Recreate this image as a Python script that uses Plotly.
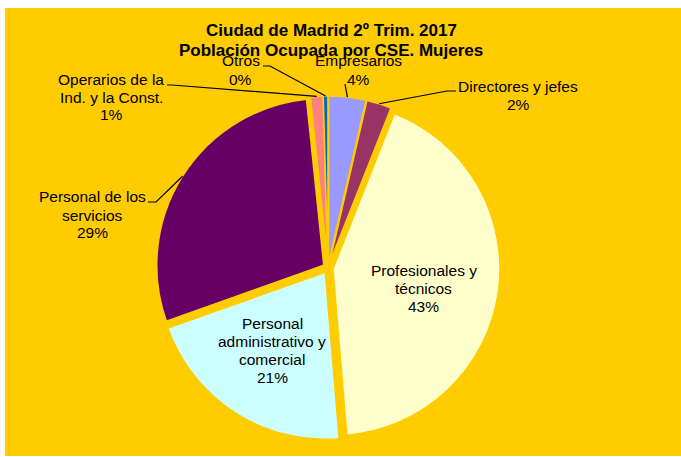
import numpy as np
import plotly.graph_objects as go

# datos (Ciudad de Madrid, 2º trim. 2017, mujeres ocupadas por CSE)
categorias = ["Empresarios", "Directores y jefes", "Profesionales y técnicos",
              "Personal administrativo y comercial", "Personal de los servicios",
              "Operarios de la Ind. y la Const.", "Otros"]
valores = [3.6, 2.4, 42.7, 20.9, 28.8, 1.2, 0.45]
lineas_etiqueta = [["Empresarios"], ["Directores y jefes"], ["Profesionales y", "técnicos"],
                   ["Personal", "administrativo y", "comercial"], ["Personal de los", "servicios"],
                   ["Operarios de la", "Ind. y la Const."], ["Otros"]]

colores = ["#9999FF", "#993366", "#FFFFCC", "#CCFFFF", "#660066", "#FF8080", "#0066CC"]
fondo = "#FFCC00"
W, H = 681, 457
FUENTE = "Liberation Sans, Arial, sans-serif"

# geometria de la tarta (pixeles)
cx, cy, r, pull = 328, 268, 167, 0.03
box = r * (2 + 2 * pull)

# posicion de cada etiqueta: centro x, y primera linea, tramo de linea guia (inicio, codo)
pos_etiqueta = {
    "Empresarios": (358, 61, (345, 84), (345, 84)),
    "Directores y jefes": (518, 86, (456, 91), (447, 91)),
    "Profesionales y técnicos": (424, 270, None, None),
    "Personal administrativo y comercial": (272, 323, None, None),
    "Personal de los servicios": (92, 197, (148, 202), (156, 202)),
    "Operarios de la Ind. y la Const.": (111, 79, (167, 85), (172, 85)),
    "Otros": (241, 61, (263, 66), (270, 66)),
}
paso = 18


def px(x):
    return x / W


def py(y):
    return 1 - y / H


fig = go.Figure()
fig.add_trace(go.Pie(labels=categorias, values=valores, sort=False, direction="clockwise",
                     rotation=0, pull=[pull] * len(valores), textinfo="none",
                     hoverinfo="label+percent", showlegend=False,
                     marker=dict(colors=colores, line=dict(color=fondo, width=1.5)),
                     domain=dict(x=[px(cx - box / 2), px(cx + box / 2)],
                                 y=[py(cy + box / 2), py(cy - box / 2)])))

total = sum(valores)
acum = np.cumsum([0] + valores[:-1])
anotaciones = []
formas = [dict(type="rect", xref="paper", yref="paper", x0=px(5), x1=1, y0=py(456), y1=py(8),
               fillcolor=fondo, line=dict(width=0), layer="below")]

for cat, v, a, lin in zip(categorias, valores, acum, lineas_etiqueta):
    pct = f"{int(v / total * 100 + 0.5)}%"
    x0, y0, ini, codo = pos_etiqueta[cat]
    for k, t in enumerate(lin + [pct]):
        anotaciones.append(dict(x=px(x0), y=py(y0 + k * paso), xref="paper", yref="paper",
                                text=t, showarrow=False, xanchor="center", yanchor="middle",
                                font=dict(family=FUENTE, size=15.5, color="#000000")))
    if ini is not None:
        th = np.radians(360 * (a + v / 2) / total)
        ex = cx + r * (1 + pull) * np.sin(th)
        ey = cy - r * (1 + pull) * np.cos(th)
        path = (f"M {px(ini[0])} {py(ini[1])} L {px(codo[0])} {py(codo[1])} "
                f"L {px(ex)} {py(ey)}")
        formas.append(dict(type="path", xref="paper", yref="paper", path=path,
                           line=dict(color="#000000", width=1.2)))

titulo = ["Ciudad de Madrid 2º Trim. 2017", "Población Ocupada por CSE. Mujeres"]
for k, t in enumerate(titulo):
    anotaciones.append(dict(x=px(331), y=py(30 + k * 20), xref="paper", yref="paper",
                            text=f"<b>{t}</b>", showarrow=False, xanchor="center",
                            yanchor="middle", font=dict(family=FUENTE, size=17, color="#000000")))

fig.update_layout(width=W, height=H, margin=dict(l=0, r=0, t=0, b=0),
                  paper_bgcolor="white", plot_bgcolor="white",
                  annotations=anotaciones, shapes=formas)
# quitar el margen por defecto del <body> para que la figura ocupe la ventana
fig.write_html("out.html", config={"displayModeBar": False},
               post_script="document.body.style.margin='0';document.body.style.overflow='hidden';")
